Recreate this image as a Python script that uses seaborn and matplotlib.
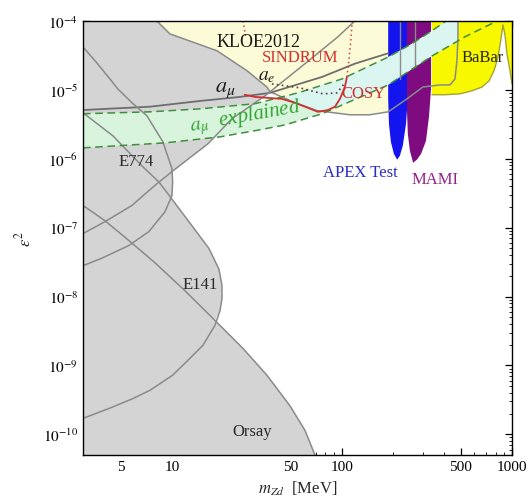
import numpy as np
import matplotlib
matplotlib.use("Agg")
import matplotlib.pyplot as plt
import seaborn as sns
from matplotlib.patches import Polygon
from matplotlib.ticker import FixedLocator, FixedFormatter, NullFormatter

# ---------------- data (m_Zd in MeV, eps^2) ----------------
kloe_left_m = [8.16, 9.73, 12.8, 18.4, 27.6, 36.2, 37.7]
kloe_left_e = [1e-4, 6.5e-5, 5.1e-5, 3.7e-5, 1.9e-5, 1.1e-5, 9.4e-6]
kloe_u_m = [37.7, 51.5, 71.3, 111, 146, 187, 241, 299, 377, 432, 462, 474, 481, 481]
kloe_u_e = [9.4e-6, 6.7e-6, 5.0e-6, 4.35e-6, 4.35e-6, 4.8e-6, 7.4e-6, 1.1e-5,
            1.18e-5, 1.18e-5, 1.44e-5, 2.6e-5, 5.5e-5, 1e-4]
amu_m = [3.0, 7.43, 14.6, 25.1, 37.7, 76.3, 119, 187]
amu_e = [5.1e-6, 5.7e-6, 6.9e-6, 7.9e-6, 9.05e-6, 1.54e-5, 2.4e-5, 3.4e-5]
ae_m = [3.0, 4.04, 5.82, 7.94, 10.0, 16.3, 22.5, 35.3, 60.6, 94.7, 119]
ae_e = [8.2e-8, 1.22e-7, 2.1e-7, 4.1e-7, 6.5e-7, 1.65e-6, 3.8e-6, 8.2e-6, 2.4e-5, 5.9e-5, 1e-4]
e774_m = [3.0, 3.62, 4.32, 4.81, 5.82, 7.13, 8.85, 10.0, 10.1, 10.0, 9.1, 7.32, 5.58, 3.87, 3.0]
e774_e = [4.2e-5, 2.46e-5, 1.44e-5, 1.03e-5, 6.5e-6, 4.2e-6, 1.76e-6, 7.2e-7, 4.6e-7,
          2.9e-7, 1.7e-7, 8.75e-8, 5.5e-8, 3.6e-8, 2.8e-8]
e141_m = [3.0, 4.5, 6.74, 8.39, 10.0, 13.1, 16.5, 18.9, 19.7, 19.7, 19.2, 17.9, 15.2,
          12.4, 10.1, 7.43, 5.9, 4.32, 3.0]
e141_e = [4.65e-6, 2.15e-6, 7.66e-7, 4.6e-7, 2.6e-7, 1.07e-7, 5.0e-8, 2.5e-8, 1.44e-8,
          9.4e-9, 6.3e-9, 3.8e-9, 1.95e-9, 1.18e-9, 7.2e-10, 4.35e-10, 3.3e-10, 2.4e-10, 1.7e-10]
orsay_m = [3.0, 4.04, 5.58, 7.94, 11.9, 17.9, 26.2, 36.2, 49.4, 60.6, 69.4]
orsay_e = [2.1e-7, 1.26e-7, 6.5e-8, 3.1e-8, 1.22e-8, 4.5e-9, 1.76e-9, 7.2e-10, 2.6e-10,
           1.14e-10, 5e-11]
band_up_m = [3.0, 7.43, 14.6, 30.8, 55.1, 100, 187, 251, 338, 409]
band_up_e = [4.5e-6, 4.8e-6, 5.3e-6, 6.3e-6, 9.05e-6, 1.44e-5, 3.0e-5, 4.5e-5, 7.2e-5, 1e-4]
band_lo_m = [3.0, 9.1, 19.2, 32.0, 46.2, 76.3, 187, 338, 529, 816]
band_lo_e = [1.44e-6, 1.7e-6, 2.08e-6, 2.6e-6, 3.1e-6, 4.5e-6, 1.18e-5, 3.1e-5, 5.9e-5, 1e-4]
apex_m = [187, 187, 189, 194, 202, 211, 219, 228, 238, 244, 244]
apex_e = [1e-4, 7.4e-6, 3.2e-6, 1.76e-6, 1.18e-6, 9.7e-7, 1.1e-6, 1.55e-6, 3.2e-6, 7.4e-6, 1e-4]
mami_m = [241, 241, 244, 251, 262, 276, 292, 312, 325, 334, 334]
mami_e = [1e-4, 5.3e-6, 2.3e-6, 1.3e-6, 8.75e-7, 9.7e-7, 1.18e-6, 1.82e-6, 4.1e-6, 1.03e-5, 1e-4]
babar_m = [338, 338, 403, 494, 582, 666, 733, 784, 828, 861, 885, 909, 935, 973, 1000, 1000]
babar_e = [1e-4, 8.5e-6, 8.5e-6, 8.75e-6, 9.7e-6, 1.1e-5, 1.35e-5, 1.9e-5, 3.0e-5, 5.5e-5,
           8.75e-5, 6.3e-5, 3.3e-5, 1.9e-5, 1.22e-5, 1e-4]
cosy_m = [26.8, 30.8, 44.4, 52.9, 60.6, 72.2, 82.7, 91.0, 97.3, 104, 107]
cosy_e = [8.5e-6, 7.9e-6, 7.4e-6, 6.5e-6, 5.7e-6, 4.8e-6, 5.1e-6, 5.7e-6, 7.4e-6, 1.1e-5, 1.54e-5]
sind_m = [107, 110, 113, 115]
sind_e = [1.54e-5, 2.8e-5, 5.5e-5, 1e-4]
sind2_m = [26.2, 27.2]
sind2_e = [1e-4, 5.9e-5]
aedot_m = [38.7, 56.6, 77.3, 93.5, 103]
aedot_e = [1.22e-5, 1.07e-5, 8.75e-6, 9.05e-6, 1.22e-5]
vline_m = [219, 269]
vline_e = [1.44e-5, 2.15e-5]

x_ticks = [5, 10, 50, 100, 500, 1000]
x_ticklabels = ["5", "10", "50", "100", "500", "1000"]
x_minor = [3, 4, 6, 7, 8, 9, 20, 30, 40, 60, 70, 80, 90, 200, 300, 400, 600, 700, 800, 900]
y_exponents = [-10, -9, -8, -7, -6, -5, -4]
y_ticklabels = [r"$10^{-10}$", r"$10^{-9}$", r"$10^{-8}$", r"$10^{-7}$",
                r"$10^{-6}$", r"$10^{-5}$", r"$10^{-4}$"]

labels = [  # text, m, eps2, color, size
    ("KLOE2012", 32.1, 5.1e-5, "#1a1a1a", 13),
    ("SINDRUM", 56.6, 3.0e-5, "#d03030", 12),
    (r"$a_e$", 36.2, 1.6e-5, "#1a1a1a", 14),
    (r"$a_\mu$", 20.5, 1.03e-5, "#1a1a1a", 16),
    ("COSY", 133, 9.05e-6, "#d03030", 12),
    ("APEX Test", 128, 6.5e-7, "#2b2bc8", 12),
    ("MAMI", 352, 5.1e-7, "#92208f", 12),
    ("BaBar", 675, 3.0e-5, "#2a2a10", 12),
    ("E774", 6.14, 9.4e-7, "#2a2a2a", 12),
    ("E141", 14.6, 1.54e-8, "#2a2a2a", 12),
    ("Orsay", 29.5, 1.1e-10, "#2a2a2a", 12),
]

# ---------------- style ----------------
sns.set_theme(style="ticks")
plt.rcParams["font.family"] = ["Liberation Serif", "DejaVu Serif"]
plt.rcParams["mathtext.fontset"] = "stix"
plt.rcParams["axes.edgecolor"] = "black"
plt.rcParams["axes.linewidth"] = 1.0

fig = plt.figure(figsize=(5.31, 5.02), dpi=100)
ax = fig.add_axes([83 / 531, 1 - 456 / 502, 429 / 531, 434 / 502])
ax.set_xscale("log")
ax.set_yscale("log")
ax.set_xlim(3, 1000)
ax.set_ylim(5e-11, 1e-4)

GRAY = "#d4d4d4"
LINE = "#8a8a8a"

# KLOE region (light yellow)
kloe_fill_m = kloe_left_m + kloe_u_m[1:]
kloe_fill_e = kloe_left_e + kloe_u_e[1:]
ax.fill(kloe_fill_m, kloe_fill_e, color="#fbfbd7", lw=0, zorder=1)

# gray excluded region (union)
gm = [3.0] + kloe_left_m + ae_m[7:3:-1] + [e774_m[8]] + e141_m[4:11] + orsay_m[5:] + [3.0]
ge = [1e-4] + kloe_left_e + ae_e[7:3:-1] + [e774_e[8]] + e141_e[4:11] + orsay_e[5:] + [5e-11]
ax.fill(gm, ge, color=GRAY, lw=0, zorder=1.5)

# a_mu explained band
band_m = band_up_m + band_lo_m[::-1]
band_e = band_up_e + band_lo_e[::-1]
ax.fill(band_m, band_e, color="#d9f4dd", lw=0, zorder=2)

# experiments
ax.fill(apex_m, apex_e, color="#1414ee", lw=0, zorder=3)
ax.fill(mami_m, mami_e, color="#7e0c80", lw=0, zorder=3.1)
ax.fill(babar_m, babar_e, color="#f8f800", lw=0, zorder=3.2)

# band inside KLOE region, drawn on top (pale cyan)
kloe_clip = Polygon(np.column_stack([kloe_fill_m, kloe_fill_e]), closed=True,
                    transform=ax.transData, facecolor="none", edgecolor="none")
cyan = ax.fill(band_m, band_e, color="#dbf5f1", lw=0, zorder=4)[0]
cyan.set_clip_path(kloe_clip)


def line(m, e, **kw):
    sns.lineplot(x=m, y=e, sort=False, estimator=None, ax=ax, legend=False, **kw)


line(kloe_left_m + kloe_u_m[1:], kloe_left_e + kloe_u_e[1:], color=LINE, lw=1.1, zorder=5)
line(amu_m, amu_e, color="#6e6e6e", lw=1.3, zorder=5)
line(ae_m, ae_e, color=LINE, lw=1.1, zorder=5)
line(e774_m, e774_e, color=LINE, lw=1.1, zorder=5)
line(e141_m, e141_e, color=LINE, lw=1.1, zorder=5)
line(orsay_m, orsay_e, color=LINE, lw=1.1, zorder=5)
line(band_up_m, band_up_e, color="#3f8f3f", lw=1.1, linestyle=(0, (5, 3)), zorder=5.5)
line(band_lo_m, band_lo_e, color="#3f8f3f", lw=1.1, linestyle=(0, (5, 3)), zorder=5.5)
line(babar_m[1:-1], babar_e[1:-1], color="#a3a33a", lw=1.0, zorder=5)
line(cosy_m, cosy_e, color="#d03030", lw=1.3, zorder=6)
line(sind_m, sind_e, color="#d84040", lw=1.1, linestyle=(0, (1, 2)), zorder=6)
line(sind2_m, sind2_e, color="#d84040", lw=1.1, linestyle=(0, (1, 2)), zorder=6)
line(aedot_m, aedot_e, color="#5a3a3a", lw=1.2, linestyle=(0, (1, 2)), zorder=6)
for vm, ve in zip(vline_m, vline_e):
    line([vm, vm], [1e-4, ve], color=LINE, lw=1.0, zorder=5)

for txt, m, e, c, s in labels:
    ax.text(m, e, txt, color=c, fontsize=s, ha="center", va="center", zorder=8)
ax.text(27.2, 4.1e-6, r"$a_\mu$  explained", color="#33a633", fontsize=15,
        fontstyle="italic", rotation=10, ha="center", va="center", zorder=8)

# axes, ticks (only inside the visible range)
y_ticks = [10.0 ** k for k in y_exponents]
y_minor = [s * 10.0 ** k for k in [-11] + y_exponents[:-1] for s in range(2, 10)
           if 5e-11 <= s * 10.0 ** k <= 1e-4]
ax.xaxis.set_major_locator(FixedLocator(x_ticks))
ax.xaxis.set_major_formatter(FixedFormatter(x_ticklabels))
ax.xaxis.set_minor_locator(FixedLocator(x_minor))
ax.xaxis.set_minor_formatter(NullFormatter())
ax.yaxis.set_major_locator(FixedLocator(y_ticks))
ax.yaxis.set_major_formatter(FixedFormatter(y_ticklabels))
ax.yaxis.set_minor_locator(FixedLocator(y_minor))
ax.yaxis.set_minor_formatter(NullFormatter())
ax.tick_params(which="both", direction="in", top=True, right=True, labelsize=11,
               colors="black")
ax.tick_params(which="major", length=5, width=0.9)
ax.tick_params(which="minor", length=2.5, width=0.6)
for sp in ax.spines.values():
    sp.set_visible(True)
    sp.set_color("black")
    sp.set_zorder(10)

ax.set_xlabel(r"$m_{Zd}$  [MeV]", fontsize=12, labelpad=4)
ax.set_ylabel(r"$\epsilon^2$", fontsize=12, labelpad=6)

fig.savefig("out.png", dpi=100)
